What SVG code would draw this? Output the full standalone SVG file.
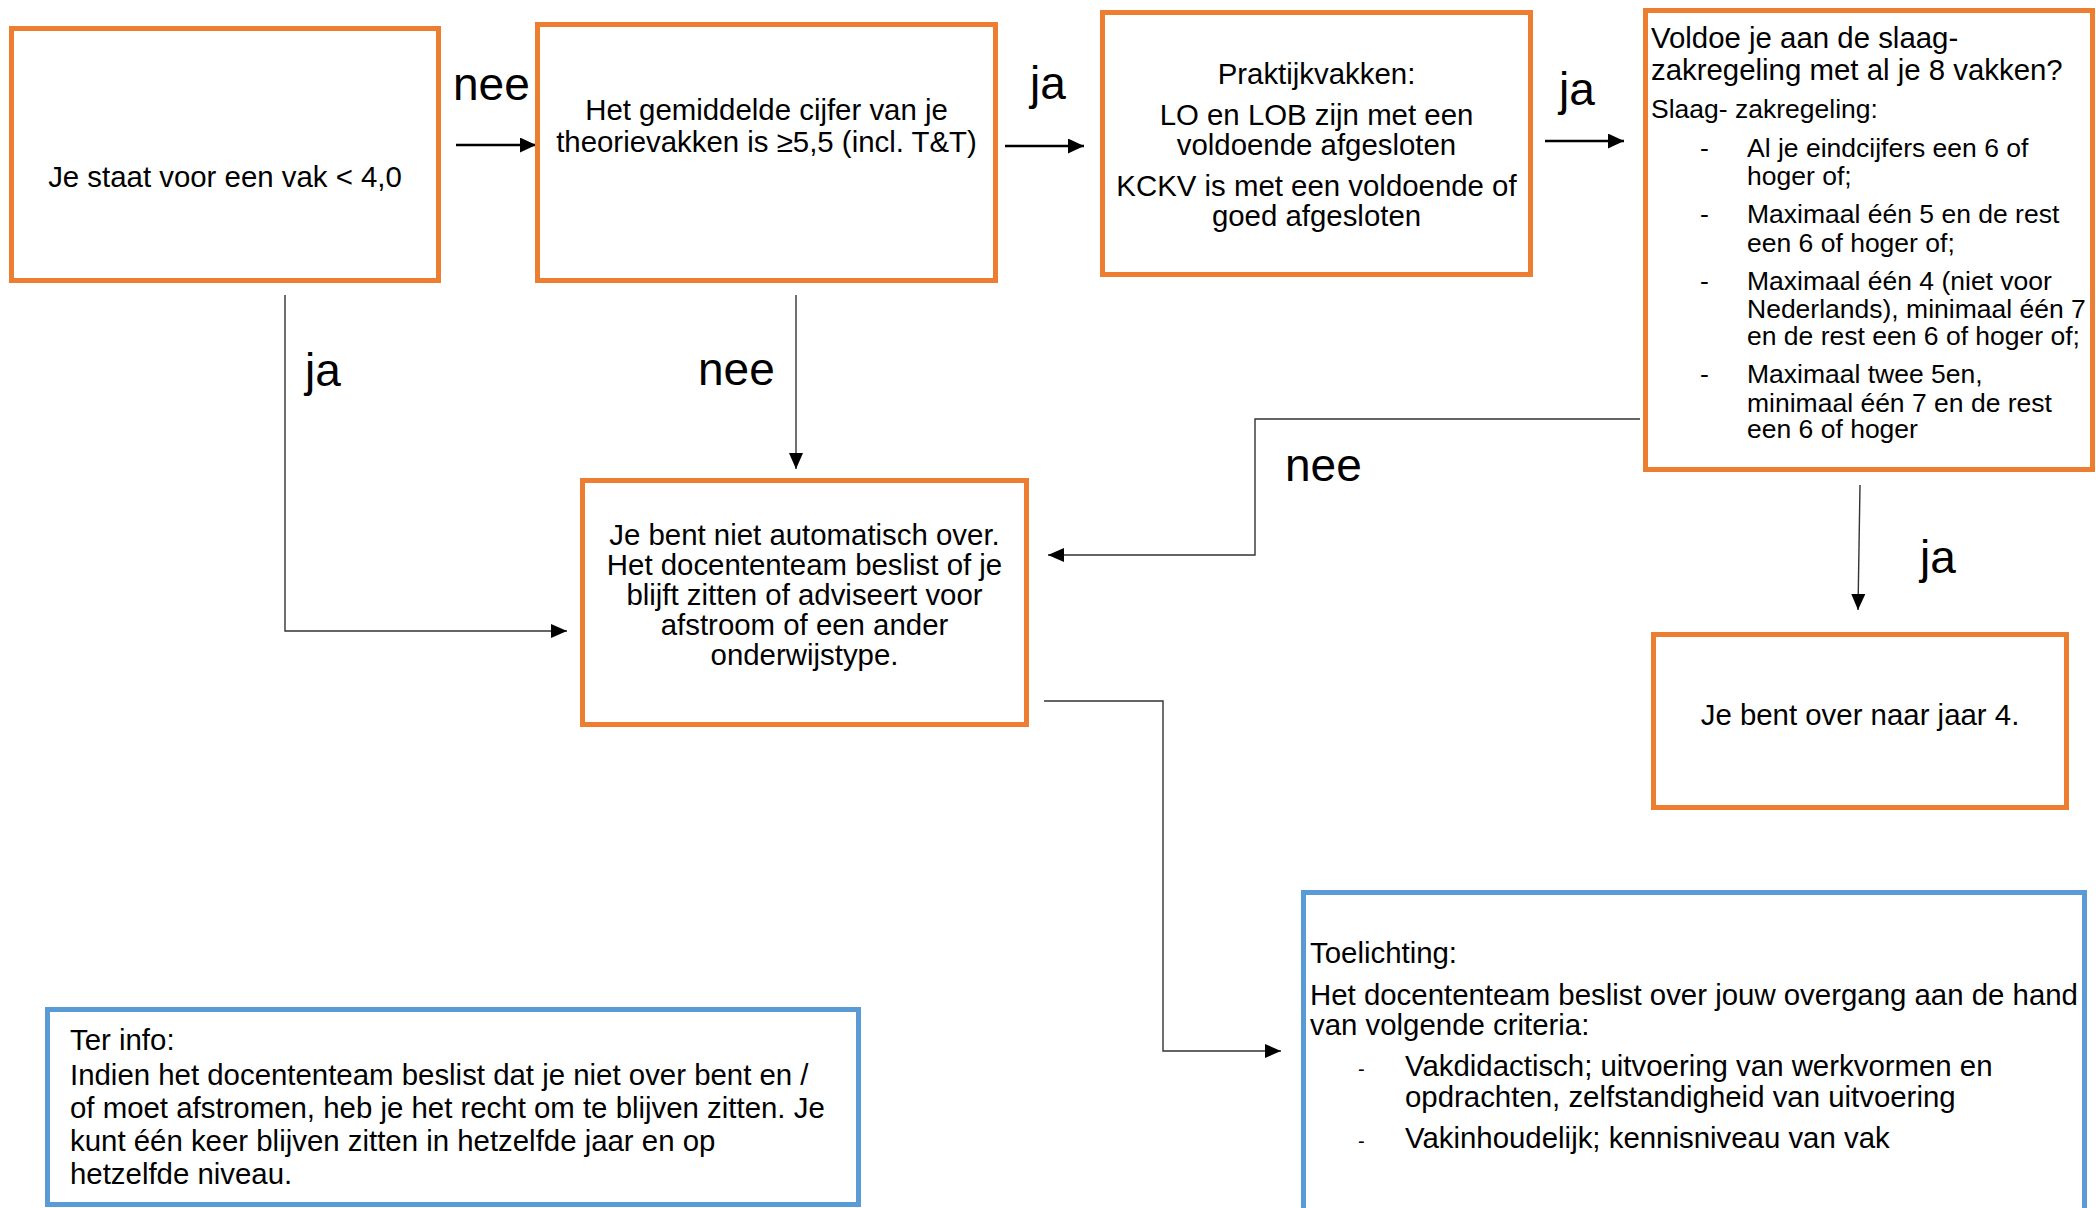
<svg xmlns="http://www.w3.org/2000/svg" width="2096" height="1208" viewBox="0 0 2096 1208">
<style>
  .box-o { fill: #ffffff; stroke: #ED7D31; stroke-width: 5; }
  .box-b { fill: #ffffff; stroke: #5B9BD5; stroke-width: 5; }
  text { font-family: "Liberation Sans", Arial, sans-serif; fill: #000000; }
  .t { font-size: 29.4px; }
  .tc { font-size: 29.4px; text-anchor: middle; }
  .ts { font-size: 26.5px; }
  .lbl { font-size: 46px; }
  .dash { font-size: 20px; }
  .thick { fill: none; stroke: #000000; stroke-width: 2.7; marker-end: url(#ahThick); }
  .thin { fill: none; stroke: #333333; stroke-width: 1.4; marker-end: url(#ahThin); }
</style>
<defs>
  <marker id="ahThick" viewBox="0 0 16 15" refX="16" refY="7.5" markerWidth="16" markerHeight="15" markerUnits="userSpaceOnUse" orient="auto">
    <path d="M0,0 L16,7.5 L0,15 z" fill="#000000"/>
  </marker>
  <marker id="ahThin" viewBox="0 0 16 14" refX="16" refY="7" markerWidth="16" markerHeight="14" markerUnits="userSpaceOnUse" orient="auto">
    <path d="M0,0 L16,7 L0,14 z" fill="#000000"/>
  </marker>
</defs>
<rect x="0" y="0" width="2096" height="1208" fill="#ffffff"/>

<g id="connectors">
  <path class="thick" d="M456,145 L536,145"/>
  <path class="thick" d="M1005,146 L1084,146"/>
  <path class="thick" d="M1545,141 L1624,141"/>
  <path class="thin" d="M285,295 V631 H567"/>
  <path class="thin" d="M796,295 V469"/>
  <path class="thin" d="M1640,419 H1255 V555 H1048"/>
  <path class="thin" d="M1860,485 L1858,610"/>
  <path class="thin" d="M1044,701 H1163 V1051 H1281"/>
  <text class="lbl" x="453" y="100">nee</text>
  <text class="lbl" x="1030" y="99">ja</text>
  <text class="lbl" x="1559" y="105">ja</text>
  <text class="lbl" x="305" y="386">ja</text>
  <text class="lbl" x="698" y="385">nee</text>
  <text class="lbl" x="1285" y="481">nee</text>
  <text class="lbl" x="1920" y="573">ja</text>
</g>

<g id="node-vak4">
  <rect class="box-o" x="11.5" y="28.5" width="427" height="252"/>
  <text class="tc" x="225" y="187">Je staat voor een vak &lt; 4,0</text>
</g>

<g id="node-gemiddelde">
  <rect class="box-o" x="537.5" y="24.5" width="458" height="256"/>
  <text class="tc" x="766.5" y="120">Het gemiddelde cijfer van je</text>
  <text class="tc" x="766.5" y="152">theorievakken is ≥5,5 (incl. T&amp;T)</text>
</g>

<g id="node-praktijk">
  <rect class="box-o" x="1102.5" y="12.5" width="428" height="262"/>
  <text class="tc" x="1316.5" y="84">Praktijkvakken:</text>
  <text class="tc" x="1316.5" y="125">LO en LOB zijn met een</text>
  <text class="tc" x="1316.5" y="155">voldoende afgesloten</text>
  <text class="tc" x="1316.5" y="196">KCKV is met een voldoende of</text>
  <text class="tc" x="1316.5" y="226">goed afgesloten</text>
</g>

<g id="node-slaagzak">
  <rect class="box-o" x="1645.5" y="10.5" width="447" height="459"/>
  <text class="t" x="1651" y="48">Voldoe je aan de slaag-</text>
  <text class="t" x="1651" y="80">zakregeling met al je 8 vakken?</text>
  <text class="ts" x="1651" y="118">Slaag- zakregeling:</text>
  <text class="ts" x="1700" y="157">-</text>
  <text class="ts" x="1747" y="157">Al je eindcijfers een 6 of</text>
  <text class="ts" x="1747" y="185">hoger of;</text>
  <text class="ts" x="1700" y="223">-</text>
  <text class="ts" x="1747" y="223">Maximaal één 5 en de rest</text>
  <text class="ts" x="1747" y="252">een 6 of hoger of;</text>
  <text class="ts" x="1700" y="290">-</text>
  <text class="ts" x="1747" y="290">Maximaal één 4 (niet voor</text>
  <text class="ts" x="1747" y="318">Nederlands), minimaal één 7</text>
  <text class="ts" x="1747" y="345">en de rest een 6 of hoger of;</text>
  <text class="ts" x="1700" y="383">-</text>
  <text class="ts" x="1747" y="383">Maximaal twee 5en,</text>
  <text class="ts" x="1747" y="412">minimaal één 7 en de rest</text>
  <text class="ts" x="1747" y="438">een 6 of hoger</text>
</g>

<g id="node-nietover">
  <rect class="box-o" x="582.5" y="480.5" width="444" height="244"/>
  <text class="tc" x="804.5" y="545">Je bent niet automatisch over.</text>
  <text class="tc" x="804.5" y="575">Het docententeam beslist of je</text>
  <text class="tc" x="804.5" y="605">blijft zitten of adviseert voor</text>
  <text class="tc" x="804.5" y="635">afstroom of een ander</text>
  <text class="tc" x="804.5" y="665">onderwijstype.</text>
</g>

<g id="node-over">
  <rect class="box-o" x="1653.5" y="634.5" width="413" height="173"/>
  <text class="tc" x="1860" y="725">Je bent over naar jaar 4.</text>
</g>

<g id="node-toelichting">
  <rect class="box-b" x="1303.5" y="892.5" width="781" height="330"/>
  <text class="t" x="1310" y="963">Toelichting:</text>
  <text class="t" x="1310" y="1005">Het docententeam beslist over jouw overgang aan de hand</text>
  <text class="t" x="1310" y="1035">van volgende criteria:</text>
  <text class="dash" x="1358" y="1076">-</text>
  <text class="t" x="1405" y="1076">Vakdidactisch; uitvoering van werkvormen en</text>
  <text class="t" x="1405" y="1107">opdrachten, zelfstandigheid van uitvoering</text>
  <text class="dash" x="1358" y="1148">-</text>
  <text class="t" x="1405" y="1148">Vakinhoudelijk; kennisniveau van vak</text>
</g>

<g id="node-terinfo">
  <rect class="box-b" x="47.5" y="1009.5" width="811" height="195"/>
  <text class="t" x="70" y="1050">Ter info:</text>
  <text class="t" x="70" y="1085">Indien het docententeam beslist dat je niet over bent en /</text>
  <text class="t" x="70" y="1118">of moet afstromen, heb je het recht om te blijven zitten. Je</text>
  <text class="t" x="70" y="1151">kunt één keer blijven zitten in hetzelfde jaar en op</text>
  <text class="t" x="70" y="1184">hetzelfde niveau.</text>
</g>
</svg>
